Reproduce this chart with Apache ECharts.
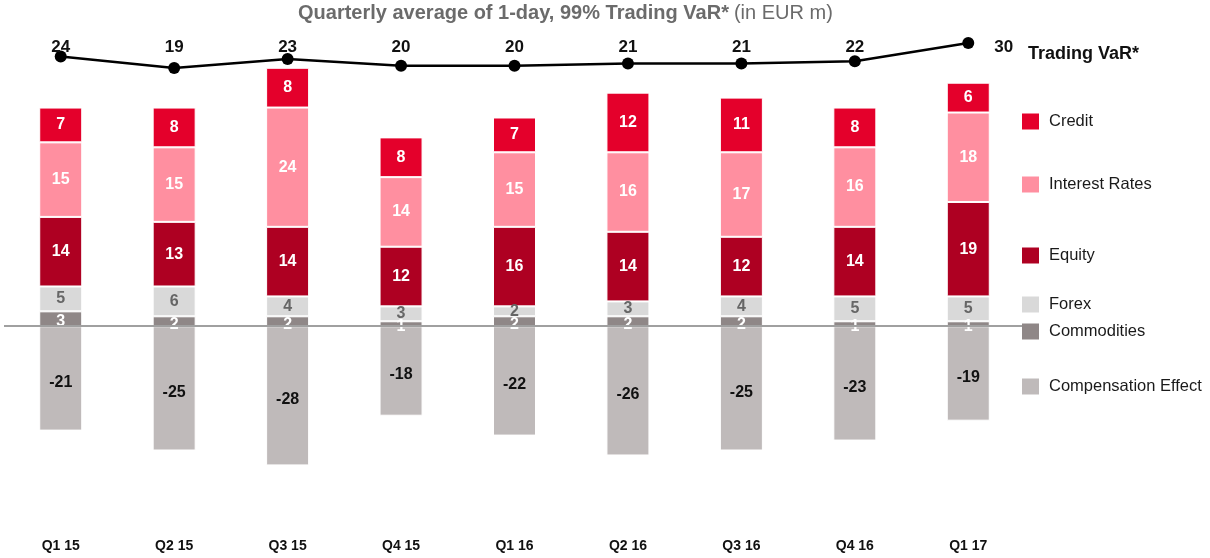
<!DOCTYPE html>
<html>
<head>
<meta charset="utf-8">
<script src="https://cdn.jsdelivr.net/npm/echarts@6/dist/echarts.min.js"></script>
<style>
  html, body { margin: 0; padding: 0; background: #fff; }
  #varChart { width: 1210px; height: 558px; }
</style>
</head>
<body>
<div id="varChart"></div>
<script>
const quarters = ['Q1 15', 'Q2 15', 'Q3 15', 'Q4 15', 'Q1 16', 'Q2 16', 'Q3 16', 'Q4 16', 'Q1 17'];
const credit = [7, 8, 8, 8, 7, 12, 11, 8, 6];
const interestRates = [15, 15, 24, 14, 15, 16, 17, 16, 18];
const equity = [14, 13, 14, 12, 16, 14, 12, 14, 19];
const forex = [5, 6, 4, 3, 2, 3, 4, 5, 5];
const commodities = [3, 2, 2, 1, 2, 2, 2, 1, 1];
const compensation = [-21, -25, -28, -18, -22, -26, -25, -23, -19];
const tradingVaR = [24, 19, 23, 20, 20, 21, 21, 22, 30];

const FONT = '"Liberation Sans", Arial, sans-serif';
const VAR_LABEL_Y = 47; // value labels of the VaR line sit on one row

function barSeries(name, data, color, labelColor, labelDy) {
    return {
        name: name,
        type: 'bar',
        stack: 'var',
        barWidth: 43,
        data: data,
        itemStyle: { color: color, borderColor: '#fff', borderWidth: 1 },
        label: {
            show: true,
            position: 'inside',
            offset: [0, labelDy || 0],
            color: labelColor,
            fontFamily: FONT,
            fontWeight: 'bold',
            fontSize: 16
        }
    };
}

function legendItem(name, top) {
    return {
        data: [{ name: name, icon: 'rect', itemStyle: { borderWidth: 0 } }],
        left: 1022,
        top: top,
        padding: 0,
        z: 20,
        orient: 'vertical',
        itemWidth: 17,
        itemHeight: 16,
        selectedMode: false,
        textStyle: { fontFamily: FONT, fontSize: 16.5, color: '#1a1a1a', padding: [0, 0, 0, 5] }
    };
}

const chart = echarts.init(document.getElementById('varChart'));

const compSeries = barSeries('Compensation Effect', compensation, '#bfbaba', '#111', 4);
compSeries.markLine = {
    silent: true,
    symbol: 'none',
    label: { show: false },
    lineStyle: { color: '#a0a0a0', width: 2, type: 'solid' },
    data: [{ yAxis: 0 }]
};

const option = {
    animation: false,
    title: {
        text: '{b|Quarterly average of 1-day, 99% Trading VaR*} {n|(in EUR m)}',
        left: 298,
        top: 3,
        padding: 0,
        textStyle: {
            rich: {
                b: { fontFamily: FONT, fontSize: 20, fontWeight: 'bold', color: '#6b6b6b' },
                n: { fontFamily: FONT, fontSize: 20, fontWeight: 'normal', color: '#6b6b6b' }
            }
        }
    },
    legend: [
        {
            data: [{ name: 'Trading VaR*', icon: 'none' }],
            left: 1023,
            top: 45,
            padding: 0,
            itemWidth: 0,
            itemGap: 0,
            selectedMode: false,
            textStyle: { fontFamily: FONT, fontSize: 18, fontWeight: 'bold', color: '#111' }
        },
        legendItem('Credit', 113),
        legendItem('Interest Rates', 176),
        legendItem('Equity', 247),
        legendItem('Forex', 296),
        legendItem('Commodities', 323),
        legendItem('Compensation Effect', 378)
    ],
    grid: { left: 4, width: 1021, top: 33, bottom: 23 },
    xAxis: {
        type: 'category',
        data: quarters,
        axisLine: { show: false },
        axisTick: { show: false },
        axisLabel: { fontFamily: FONT, fontWeight: 'bold', fontSize: 14, color: '#111', margin: 4 }
    },
    yAxis: [
        { type: 'value', min: -42, max: 59, show: false, splitLine: { show: false } },
        { type: 'value', min: -186.7, max: 34.4, show: false, splitLine: { show: false } }
    ],
    series: [
        barSeries('Commodities', commodities, '#8f8787', '#fff', 3),
        barSeries('Forex', forex, '#d9d9d9', '#666'),
        barSeries('Equity', equity, '#ae0022', '#fff'),
        barSeries('Interest Rates', interestRates, '#ff8fa0', '#fff'),
        barSeries('Credit', credit, '#e4002b', '#fff'),
        compSeries,
        {
            name: 'Trading VaR*',
            type: 'line',
            yAxisIndex: 1,
            data: tradingVaR,
            symbol: 'circle',
            symbolSize: 12,
            lineStyle: { color: '#000', width: 2.5 },
            itemStyle: { color: '#000' },
            label: {
                show: true,
                position: 'inside',
                fontFamily: FONT,
                fontWeight: 'bold',
                fontSize: 17,
                color: '#111'
            }
        }
    ]
};

chart.setOption(option);

// put the VaR labels on a single row above the line, last one to the right
const varData = tradingVaR.map(function (v, i) {
    const py = chart.convertToPixel({ xAxisIndex: 0, yAxisIndex: 1 }, [i, v])[1];
    const dy = VAR_LABEL_Y - py;
    if (i === tradingVaR.length - 1) {
        return { value: v, label: { position: 'right', distance: 20, offset: [0, dy] } };
    }
    return { value: v, label: { offset: [0, dy] } };
});
chart.setOption({ series: [{}, {}, {}, {}, {}, {}, { data: varData }] });
</script>
</body>
</html>
